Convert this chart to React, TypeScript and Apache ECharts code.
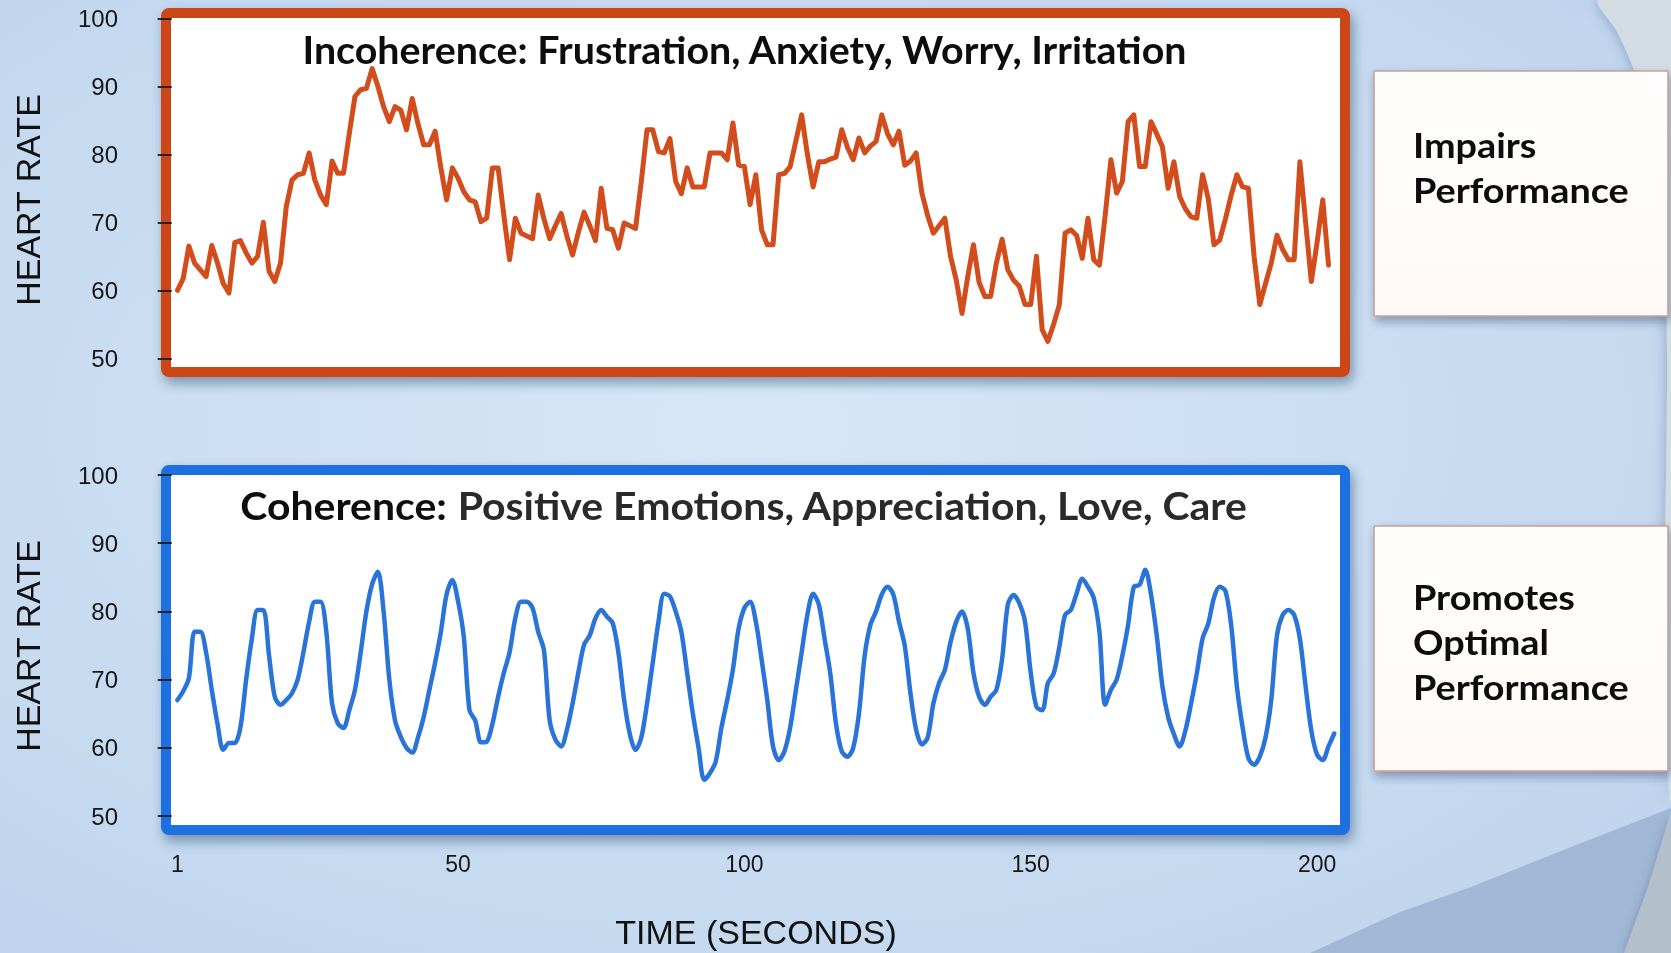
import React, { useEffect, useRef } from "react";
import * as echarts from "echarts";

// ---------- data ----------
const TIME_TICKS = [1, 50, 100, 150, 200];
const HR_MIN = 50;
const HR_MAX = 100;
const HR_STEP = 10;
const TIME_MIN = 0;
const TIME_MAX = 205;

// Incoherent heart rhythm (one value per second, from t = 1)
const INCOHERENT_HR = [
  60, 61.7, 66.5, 64, 63, 62, 66.6, 64, 61, 59.6,
  67, 67.3, 65.5, 64, 65, 70, 62.8, 61.3, 64, 72.3,
  76.2, 77, 77.2, 80.2, 76.2, 74, 72.6, 79, 77.2, 77.2,
  83, 88.5, 89.5, 89.7, 92.6, 90, 87, 84.8, 87, 86.5,
  83.6, 88.2, 84.5, 81.4, 81.4, 83.4, 78, 73.3, 78, 76.5,
  74.5, 73.3, 73, 70.1, 70.6, 78, 78, 71, 64.5, 70.6,
  68.4, 68, 67.6, 74, 70.5, 67.6, 69.5, 71.3, 68, 65.2,
  68.5, 71.5, 69.5, 67.3, 75, 69.1, 68.9, 66.2, 69.9, 69.5,
  69.1, 76, 83.6, 83.6, 80.4, 80.2, 82.3, 76, 74.2, 78,
  75.2, 75.2, 75.2, 80.2, 80.2, 80.2, 79.2, 84.6, 78.4, 78.2,
  72.6, 77, 68.9, 66.7, 66.7, 77, 77.2, 78.2, 82, 85.8,
  80, 75.2, 78.9, 78.9, 79.3, 79.6, 83.6, 81, 79.2, 82.4,
  80.2, 81.2, 81.9, 85.8, 83, 81.4, 83.4, 78.4, 79, 80.2,
  74.3, 71, 68.4, 69.5, 70.6, 65, 61.5, 56.6, 62, 66.7,
  61.1, 59.1, 59.1, 64, 67.5, 63, 61.5, 60.6, 57.9, 57.9,
  65, 54.2, 52.5, 55, 57.9, 68.4, 68.9, 68.1, 64.7, 70.6,
  64.5, 63.7, 71, 79.2, 74.3, 76, 84.8, 85.8, 78.2, 78.2,
  84.8, 83, 81.1, 75, 78.9, 73.8, 72, 70.8, 70.6, 77,
  73.5, 66.7, 67.4, 70.5, 74, 77, 75.2, 75, 65, 57.9,
  61, 64, 68.1, 66, 64.5, 64.5, 78.9, 70, 61.3, 67,
  73.3, 63.7,
];

// Coherent heart rhythm (one value per second, from t = 1)
const COHERENT_HR = [
  67, 68.3, 70.2, 77, 77, 74, 68.5, 63.5, 59.7, 60.7,
  60.7, 63, 70, 76, 80.2, 80.2, 73.5, 67.5, 66.3, 67,
  68, 70, 74, 78.5, 81.4, 81.4, 77, 66.5, 63.6, 62.9,
  65.5, 68.5, 74, 80, 84, 85.8, 80, 70, 64, 61.6,
  60, 59.3, 61.5, 64.5, 68.5, 72.5, 77, 82.5, 84.6, 81.5,
  76.3, 65.5, 64, 60.8, 60.9, 63.5, 67.5, 71, 74, 79,
  81.4, 81.4, 80.5, 77, 74.3, 64, 61.2, 60.2, 62.6, 66.5,
  71, 75.1, 76.5, 79, 80.2, 79.2, 78.3, 74, 67, 62,
  59.7, 61.5, 66.5, 72.5, 78.5, 82.6, 82.2, 80, 77, 71,
  65, 60, 55.3, 56.3, 58, 63, 67, 71.5, 77.5, 80.5,
  81.4, 78.5, 73, 67, 60.2, 58.2, 59.5, 63, 68.5, 74,
  79.5, 82.6, 81, 76, 70.9, 63.5, 59.5, 58.7, 60, 65,
  73.5, 78, 80, 82.5, 83.6, 82.5, 78.5, 75, 68, 62.6,
  60.5, 61.5, 66.5, 69.5, 71.4, 75.5, 78.5, 80, 77.5, 71,
  67.5, 66.3, 67.5, 68.5, 73, 81, 82.4, 81.2, 78.5, 71,
  66, 65.5, 69.5, 70.9, 74.8, 79.5, 80.2, 82.6, 84.8, 83.6,
  82, 77, 66.3, 68.5, 70, 73.5, 78, 83.6, 83.9, 86.1,
  82.5, 76.5, 69, 64.5, 62, 60.2, 62.5, 66.5, 70.9, 76,
  78.2, 82, 83.6, 83, 78, 69, 63, 58.5, 57.5, 58.7,
  61.5, 67, 76.5, 79.5, 80.2, 79.5, 76, 69, 62.5, 59,
  58.2, 60.2, 62.1,
];

const TOP_TITLE = "Incoherence: Frustration, Anxiety, Worry, Irritation";
const BOTTOM_TITLE_LEAD = "Coherence:";
const BOTTOM_TITLE_REST = " Positive Emotions, Appreciation, Love, Care";
const TOP_NOTE = ["Impairs", "Performance"];
const BOTTOM_NOTE = ["Promotes", "Optimal", "Performance"];
const Y_NAME = "HEART RATE";
const X_NAME = "TIME (SECONDS)";

// ---------- style ----------
const W = 1671;
const H = 953;
const ORANGE = "#cd4716";
const ORANGE_LINE = "#d24c1c";
const BLUE = "#1f6fe0";
const BLUE_LINE = "#2a73d8";
const AXIS_FONT = "Liberation Sans, Arial, Helvetica, sans-serif";
const TITLE_FONT = "Lato, 'Noto Sans', sans-serif";

const GRID_LEFT = 171.7;
const GRID_WIDTH = 1174;

function toPairs(values: number[]) {
  return values.map((v, i) => [i + 1, v]);
}

function yAxisFor(gridIndex: number) {
  return {
    type: "value",
    gridIndex,
    min: HR_MIN,
    max: HR_MAX,
    interval: HR_STEP,
    offset: 34.7,
    axisLine: { show: false },
    axisTick: { show: true, length: 14, lineStyle: { color: "#1a1a1a", width: 1.8 } },
    splitLine: { show: false },
    axisLabel: {
      margin: 19,
      fontSize: 24,
      fontFamily: AXIS_FONT,
      color: "#161616",
    },
  };
}

function chartBox(y: number, h: number, color: string) {
  return {
    type: "rect",
    z: 0,
    shape: { x: 166, y, width: 1179, height: h, r: 3 },
    style: {
      fill: "#ffffff",
      stroke: color,
      lineWidth: 10,
      shadowBlur: 12,
      shadowOffsetX: 3,
      shadowOffsetY: 6,
      shadowColor: "rgba(30,50,90,0.45)",
    },
  };
}

function noteBox(y: number, h: number) {
  return {
    type: "rect",
    z: 0,
    shape: { x: 1374, y, width: 294, height: h, r: 1 },
    style: {
      fill: {
        type: "linear",
        x: 0,
        y: 0,
        x2: 0,
        y2: 1,
        colorStops: [
          { offset: 0, color: "#fffefd" },
          { offset: 1, color: "#fffaf7" },
        ],
      },
      stroke: "#c99f92",
      lineWidth: 1.6,
      shadowBlur: 10,
      shadowOffsetX: 2,
      shadowOffsetY: 5,
      shadowColor: "rgba(30,50,90,0.4)",
    },
  };
}

function noteText(text: string, y: number) {
  return {
    type: "text",
    z: 50,
    x: 1413,
    y,
    scaleX: 1.08,
    style: {
      text,
      fontSize: 35,
      fontWeight: "bold",
      fontFamily: TITLE_FONT,
      fill: "#0d0d0d",
      align: "left",
      verticalAlign: "middle",
      textAlign: "left",
      textVerticalAlign: "middle",
    },
  };
}

function yName(y: number) {
  return {
    type: "text",
    z: 50,
    x: 28,
    y,
    rotation: Math.PI / 2,
    style: {
      text: Y_NAME,
      fontSize: 34,
      fontFamily: AXIS_FONT,
      fill: "#111111",
      align: "center",
      verticalAlign: "middle",
      textAlign: "center",
      textVerticalAlign: "middle",
    },
  };
}

export default function App() {
  const ref = useRef<HTMLDivElement>(null);

  useEffect(() => {
    if (!ref.current) return;
    const chart = echarts.init(ref.current, null, { renderer: "svg" });

    const option: any = {
      animation: false,
      backgroundColor: "transparent",
      grid: [
        { left: GRID_LEFT, top: 18.3, width: GRID_WIDTH, height: 340 },
        { left: GRID_LEFT, top: 475, width: GRID_WIDTH, height: 341 },
      ],
      xAxis: [
        {
          type: "value",
          gridIndex: 0,
          min: TIME_MIN,
          max: TIME_MAX,
          show: false,
        },
        {
          type: "value",
          gridIndex: 1,
          min: TIME_MIN,
          max: TIME_MAX,
          axisLine: { show: false },
          axisTick: { show: false },
          splitLine: { show: false },
          axisLabel: {
            customValues: TIME_TICKS,
            margin: 36,
            fontSize: 23,
            fontFamily: AXIS_FONT,
            color: "#161616",
          },
        },
      ],
      yAxis: [yAxisFor(0), yAxisFor(1)],
      series: [
        {
          type: "line",
          xAxisIndex: 0,
          yAxisIndex: 0,
          data: toPairs(INCOHERENT_HR),
          showSymbol: false,
          symbol: "none",
          z: 5,
          lineStyle: { color: ORANGE_LINE, width: 5, join: "round", cap: "round" },
        },
        {
          type: "line",
          xAxisIndex: 1,
          yAxisIndex: 1,
          data: toPairs(COHERENT_HR),
          showSymbol: false,
          symbol: "none",
          smooth: 0.3,
          z: 5,
          lineStyle: { color: BLUE_LINE, width: 4.5, join: "round", cap: "round" },
        },
      ],
      graphic: [
        {
          type: "group",
          z: -10,
          children: [
            {
              type: "rect",
              shape: { x: 0, y: 0, width: W, height: H },
              style: {
                fill: {
                  type: "radial",
                  x: 0.45,
                  y: 0.45,
                  r: 0.8,
                  colorStops: [
                    { offset: 0, color: "#d7e7f8" },
                    { offset: 1, color: "#bcd2eb" },
                  ],
                },
              },
            },
            {
              type: "polygon",
              shape: {
                points: [
                  [1598, 0], [1616, 30], [1632, 65], [1646, 110], [1657, 170],
                  [1664, 250], [1667, 350], [1666, 480], [1663, 620], [1664, 720],
                  [1671, 800], [1671, 0],
                ],
                smooth: 0.3,
              },
              style: {
                fill: "#d3dce3",
                shadowBlur: 14,
                shadowColor: "rgba(60,90,140,0.45)",
              },
            },
            {
              type: "polygon",
              shape: {
                points: [
                  [1310, 953], [1400, 912], [1471, 887], [1571, 847], [1671, 808], [1671, 953],
                ],
              },
              style: { fill: "#a0b8d6" },
            },
            {
              type: "polygon",
              shape: {
                points: [[1624, 953], [1648, 887], [1671, 812], [1671, 953]],
              },
              style: { fill: "#b3c0cb", shadowBlur: 10, shadowColor: "rgba(60,80,120,0.4)" },
            },
          ],
        },
        chartBox(13, 359, ORANGE),
        chartBox(470, 360, BLUE),
        noteBox(71, 245),
        noteBox(526, 245),
        {
          type: "text",
          z: 50,
          x: 744.5,
          y: 49,
          scaleX: 1.01,
          style: {
            text: TOP_TITLE,
            fontSize: 39,
            fontWeight: "bold",
            fontFamily: TITLE_FONT,
            fill: "#0d0d0d",
            align: "center",
            verticalAlign: "middle",
            textAlign: "center",
            textVerticalAlign: "middle",
          },
        },
        {
          type: "text",
          z: 50,
          x: 744,
          y: 505,
          scaleX: 1.05,
          style: {
            text: "{a|" + BOTTOM_TITLE_LEAD + "}{b|" + BOTTOM_TITLE_REST + "}",
            align: "center",
            verticalAlign: "middle",
            textAlign: "center",
            textVerticalAlign: "middle",
            rich: {
              a: {
                fontSize: 39,
                fontWeight: "bold",
                fontFamily: TITLE_FONT,
                fill: "#0d0d0d",
                color: "#0d0d0d",
              },
              b: {
                fontSize: 39,
                fontWeight: "bold",
                fontFamily: TITLE_FONT,
                fill: "#2a2a2a",
                color: "#2a2a2a",
              },
            },
          },
        },
        noteText(TOP_NOTE[0], 145),
        noteText(TOP_NOTE[1], 190),
        noteText(BOTTOM_NOTE[0], 597),
        noteText(BOTTOM_NOTE[1], 642),
        noteText(BOTTOM_NOTE[2], 687),
        yName(200),
        yName(646),
        {
          type: "text",
          z: 50,
          x: 756,
          y: 932,
          style: {
            text: X_NAME,
            fontSize: 34,
            fontFamily: AXIS_FONT,
            fill: "#111111",
            align: "center",
            verticalAlign: "middle",
            textAlign: "center",
            textVerticalAlign: "middle",
          },
        },
      ],
    };

    chart.setOption(option);
    return () => chart.dispose();
  }, []);

  return (
    <div
      ref={ref}
      style={{ position: "fixed", left: 0, top: 0, width: W, height: H }}
    />
  );
}
